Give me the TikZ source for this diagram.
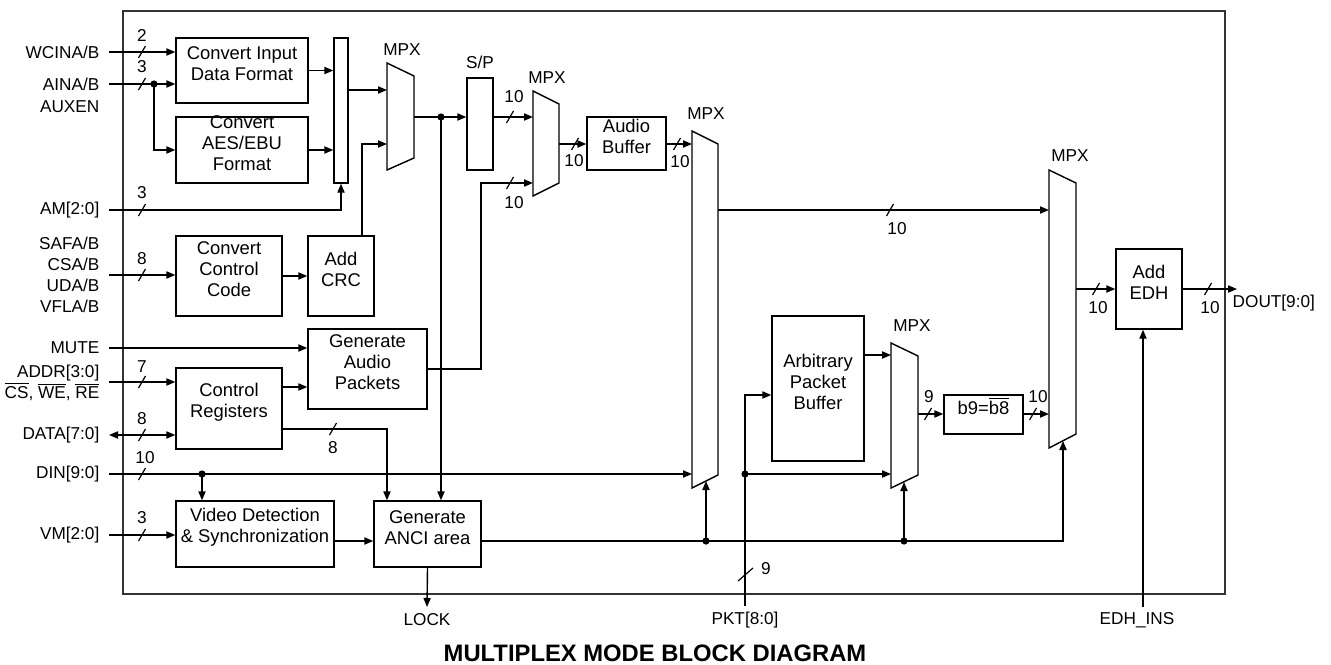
\documentclass[tikz,border=0pt]{standalone}
\usepackage{fontspec}
\setmainfont{Liberation Sans}
\usetikzlibrary{fit,arrows.meta}
\newcommand{\ovl}[1]{$\overline{\mbox{#1}}$}
\begin{document}
\begin{tikzpicture}[x=0.5pt,y=-0.5pt, line width=0.7pt,
  >={Triangle[length=4.5pt,width=3.6pt]},
  every node/.style={font=\fontsize{8.6}{10.5}\selectfont, inner sep=0pt},
  box/.style={draw, inner sep=0pt, align=center, font=\fontsize{9.2}{10.5}\selectfont},
  lbl/.style={anchor=east, inner xsep=4.5pt, inner ysep=0pt, align=right},
  bus/.pic={\draw[line width=0.6pt] (-3.5,6)--(3.5,-6);},
  vbus/.pic={\draw[line width=0.6pt] (-7.5,6.5)--(7.5,-6.5);},
  dot/.style={circle, fill, inner sep=0pt, minimum size=3.6pt},
  mux/.style={draw, line width=0.7pt}
]
\useasboundingbox (0,0) rectangle (1331,664);

% chip outline
\node[draw, line width=0.9pt, black!80, inner sep=0pt, fit={(123,11) (1225,594)}] (chip) {};

% blocks
\node[box, fit={(176,38) (308,103)}] (cif) {Convert Input\\Data Format};
\node[box, fit={(176,117) (308,183)}] (aes) {Convert\\AES/EBU\\Format};
\node[box, fit={(334,38) (348,183)}] (bar) {};
\node[box, fit={(176,236) (282,316)}] (ccc) {Convert\\Control\\Code};
\node[box, fit={(308,236) (374,316)}] (crc) {Add\\CRC};
\node[box, fit={(308,329) (427,409)}] (gap) {Generate\\Audio\\Packets};
\node[box, fit={(176,368) (282,449)}] (creg) {Control\\Registers};
\node[box, fit={(176,501) (334,567)}] (vid) {Video Detection\\\& Synchronization};
\node[box, fit={(374,501) (481,567)}] (anci) {Generate\\ANCI area};
\node[box, fit={(467,78) (493,170)}] (sp) {};
\node[box, fit={(587,117) (666,170)}] (abuf) {Audio\\Buffer};
\node[box, fit={(772,316) (864,461)}] (apb) {Arbitrary\\Packet\\Buffer};
\node[box, fit={(944,395) (1023,434)}] (b9) {b9=\ovl{b8}};
\node[box, fit={(1116,249) (1182,329)}] (edh) {Add\\EDH};

% multiplexers
\draw[mux] (387,63) -- (414,76) -- (414,158) -- (387,170) -- cycle;
\draw[mux] (533,91) -- (559,104) -- (559,183) -- (533,196) -- cycle;
\draw[mux] (692,131) -- (718,144) -- (718,475) -- (692,488) -- cycle;
\draw[mux] (1049,170) -- (1076,183) -- (1076,434) -- (1049,448) -- cycle;
\draw[mux] (891,343) -- (918,356) -- (918,475) -- (891,488) -- cycle;
\node (mpx1l) at (402,50) {MPX};
\node (mpx2l) at (547,78) {MPX};
\node (mpx3l) at (706,114) {MPX};
\node (mpx4l) at (1070,156) {MPX};
\node (mpx5l) at (912,326) {MPX};
\node (spl) at (480,62) {S/P};

% mux ports
\coordinate (m1i1) at (387,90);
\coordinate (m1i2) at (387,144);
\coordinate (m1o) at (414,117);
\coordinate (m2i1) at (533,117);
\coordinate (m2i2) at (533,183);
\coordinate (m2o) at (559,144);
\coordinate (m3i1) at (692,144);
\coordinate (m3i2) at (692,474);
\coordinate (m3o) at (718,210);
\coordinate (m3c) at (706,481);
\coordinate (m4i1) at (1049,210);
\coordinate (m4i2) at (1049,414);
\coordinate (m4o) at (1076,289);
\coordinate (m4c) at (1063,441);
\coordinate (m5i1) at (891,355);
\coordinate (m5i2) at (891,474);
\coordinate (m5o) at (918,414);
\coordinate (m5c) at (904,482);

% input labels
\node[lbl] (wc) at (109,52) {WCINA/B};
\node[lbl] (ai) at (109,84) {AINA/B};
\node[lbl] (aux) at (109,107) {AUXEN};
\node[lbl] (am) at (109,210) {AM[2:0]};
\node[lbl] (saf) at (109,275) {SAFA/B\\CSA/B\\UDA/B\\VFLA/B};
\node[lbl] (mute) at (109,348) {MUTE};
\node[lbl] (addr) at (109,383) {ADDR[3:0]\\\ovl{CS}, \ovl{WE}, \ovl{RE}};
\node[lbl] (data) at (109,435) {DATA[7:0]};
\node[lbl] (din) at (109,474) {DIN[9:0]};
\node[lbl] (vm) at (109,535) {VM[2:0]};

% left inputs
\draw[->] (wc.east) -- (wc.east -| cif.west);
\pic at (142,52) {bus}; \node at (142,35) {2};
\coordinate (aid) at (154,84);
\draw[->] (ai.east) -- (ai.east -| cif.west);
\draw[->] (aid) |- (aes.west |- 0,150);
\node[dot] at (aid) {};
\pic at (142,84) {bus}; \node at (142,67) {3};
\draw[->] (cif.east) -- (cif.east -| bar.west);
\draw[->] (aes.east) -- (aes.east -| bar.west);
\draw[->] (am.east) -| (bar.south);
\pic at (142,210) {bus}; \node at (142,193) {3};
\draw[->] (bar.east |- m1i1) -- (m1i1);
\draw[->] (crc.north -| 362,0) |- (m1i2);

\draw[->] (saf.east) -- (saf.east -| ccc.west);
\pic at (142,275) {bus}; \node at (142,259) {8};
\draw[->] (ccc.east) -- (ccc.east -| crc.west);

\draw[->] (mute.east) -- (mute.east -| gap.west);
\draw[->] (addr.east |- 0,382) -- (creg.west |- 0,382);
\pic at (142,382) {bus}; \node at (142,367) {7};
\draw[->] (creg.east |- 0,387) -- (gap.west |- 0,387);
\draw[<->] (data.east) -- (data.east -| creg.west);
\pic at (142,435) {bus}; \node at (142,419) {8};
\draw[->] (creg.east |- 0,429) -| (anci.north -| 387,0);
\pic at (333,429) {bus}; \node at (333,448) {8};

\coordinate (dind) at (202,474);
\draw[->] (din.east) -- (m3i2);
\draw[->] (dind) -- (vid.north -| dind);
\node[dot] at (dind) {};
\pic at (142,474) {bus}; \node at (145,458) {10};
\draw[->] (vm.east) -- (vm.east -| vid.west);
\pic at (142,535) {bus}; \node at (142,518) {3};
\draw[->] (vid.east |- 0,541) -- (anci.west |- 0,541);

\coordinate (lockend) at (427,607);
\draw[->] (anci.south) -- (lockend);
\node (lock) at (427,620) {LOCK};

% audio path
\coordinate (m1d) at (441,117);
\draw[->] (m1o) -- (m1o -| sp.west);
\draw[->] (m1d) -- (anci.north -| m1d);
\node[dot] at (m1d) {};
\draw[->] (sp.east |- m2i1) -- (m2i1);
\pic at (510,117) {bus}; \node at (514,97) {10};
\draw[->] (gap.east |- 0,369) -| (481,183) -- (m2i2);
\pic at (510,183) {bus}; \node at (514,203) {10};
\draw[->] (m2o) -- (m2o -| abuf.west);
\pic at (575,144) {bus}; \node at (574,161) {10};
\draw[->] (abuf.east |- m3i1) -- (m3i1);
\pic at (677,144) {bus}; \node at (680,162) {10};
\draw[->] (m3o) -- (m4i1);
\pic at (890,210) {bus}; \node at (897,229) {10};

% control line from ANCI
\coordinate (d3) at (706,541);
\coordinate (d5) at (904,541);
\draw[->] (anci.east |- 0,541) -| (m4c);
\draw[->] (d3) -- (m3c);
\draw[->] (d5) -- (m5c);
\node[dot] at (d3) {};
\node[dot] at (d5) {};

% packet path
\coordinate (pkt) at (745,606);
\coordinate (pktd) at (745,474);
\node (pktl) at (745,620) {PKT[8:0]};
\draw[->] (pkt) |- (apb.west |- 0,395);
\draw[->] (pktd) -- (m5i2);
\node[dot] at (pktd) {};
\pic at (745.5,574.5) {vbus}; \node at (766,569) {9};
\draw[->] (apb.east |- m5i1) -- (m5i1);
\draw[->] (m5o) -- (m5o -| b9.west);
\pic at (928,414) {bus}; \node at (929,397) {9};
\draw[->] (b9.east |- m4i2) -- (m4i2);
\pic at (1033,414) {bus}; \node at (1038,397) {10};

% output
\draw[->] (m4o) -- (m4o -| edh.west);
\pic at (1096,289) {bus}; \node at (1098,308) {10};
\coordinate (doutend) at (1237,289);
\draw[->] (edh.east |- doutend) -- (doutend);
\pic at (1208,289) {bus}; \node at (1210,308) {10};
\node[anchor=west] (dout) at (1232,303) {DOUT[9:0]};
\coordinate (edhin) at (1143,607);
\draw[->] (edhin) -- (edh.south -| edhin);
\node (edhl) at (1137,620) {EDH\_INS};

% title
\node[font=\fontsize{11.9}{14}\selectfont\bfseries] (title) at (655,653) {MULTIPLEX MODE BLOCK DIAGRAM};
\end{tikzpicture}
\end{document}
